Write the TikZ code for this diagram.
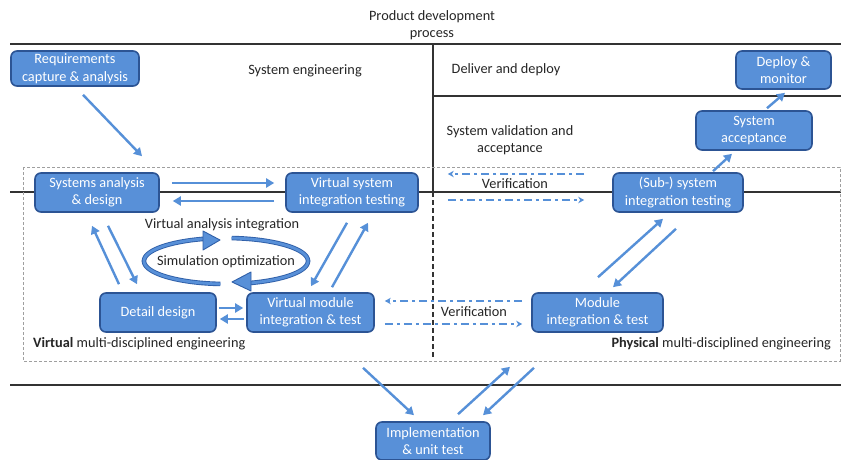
\documentclass[tikz,border=0pt]{standalone}
\usepackage{fontspec}
\setmainfont{Carlito}
\usetikzlibrary{arrows.meta,calc}
\definecolor{boxfill}{HTML}{5890D8}
\definecolor{boxline}{HTML}{2C5494}
\definecolor{arrowblue}{HTML}{5690D8}
\definecolor{ruleline}{HTML}{333333}
\definecolor{ringline}{HTML}{2F5FA8}
\definecolor{txt}{HTML}{262626}

\begin{document}
\begin{tikzpicture}[x=1pt,y=-1pt,
  stepbox/.style={draw=boxline, fill=boxfill, line width=1.6pt, rounded corners=6pt,
    text=white, align=center, inner sep=0pt, font=\fontsize{14.3}{17.5}\selectfont},
  flow/.style={draw=arrowblue, line width=2.4pt, -{Triangle[length=8pt,width=9pt]}},
  verif/.style={draw=arrowblue, line width=1.6pt, dash pattern=on 8pt off 4pt on 3pt off 4pt,
    -{Stealth[length=6pt,width=6.5pt]}},
  lbl/.style={font=\fontsize{14.3}{17.5}\selectfont, align=center, text=txt, inner sep=0pt},
  rule/.style={draw=ruleline, line width=1.3pt},
  ring/.style={draw=ringline, line width=0.9pt, double=boxfill, double distance=2.8pt},
  ringhead/.style={draw=ringline, line width=0.9pt, fill=boxfill, line join=round}
]
\fill[white] (0,0) rectangle (841,460);
\useasboundingbox (0,0) rectangle (841,460);

% swim-lane rules
\draw[rule] (10,44) -- (841,44);
\draw[rule] (433,96) -- (841,96);
\draw[rule] (10,192) -- (841,192);
\draw[rule] (10,385) -- (841,385);
\draw[rule] (433,44) -- (433,192);
\draw[draw=ruleline, line width=1.2pt, dash pattern=on 5pt off 3pt] (433,192) -- (433,358);

% multi-disciplined engineering frame
\draw[draw=gray!75, line width=0.9pt, dash pattern=on 3pt off 2pt] (23,167) rectangle (840,361);

% lane titles
\node[lbl] (title) at (432,25) {Product development\\process};
\node[lbl] (syseng) at (305,71) {System engineering};
\node[lbl] (deliver) at (506,70) {Deliver and deploy};
\node[lbl] (valid) at (510,140) {System validation and\\acceptance};
\node[lbl] (vai) at (222,225) {Virtual analysis integration};
\node[lbl, anchor=west] (virt) at (33,344) {\textbf{Virtual} multi-disciplined engineering};
\node[lbl, anchor=east] (phys) at (831,344) {\textbf{Physical} multi-disciplined engineering};
\node[lbl] (ver1) at (515,184) {Verification};
\node[lbl] (ver2) at (474,312) {Verification};

% process steps
\node[stepbox, minimum width=128pt, minimum height=35pt] (req) at (75,68.5) {Requirements\\capture \& analysis};
\node[stepbox, minimum width=124pt, minimum height=39pt] (sad) at (97,192.5) {Systems analysis\\\& design};
\node[stepbox, minimum width=132pt, minimum height=39pt] (vsit) at (352,192.5) {Virtual system\\integration testing};
\node[stepbox, minimum width=95pt, minimum height=38pt] (dep) at (783.5,70) {Deploy \&\\monitor};
\node[stepbox, minimum width=116pt, minimum height=39pt] (sacc) at (754,130.5) {System\\acceptance};
\node[stepbox, minimum width=130pt, minimum height=39pt] (ssit) at (678,192.5) {(Sub-) system\\integration testing};
\node[stepbox, minimum width=116pt, minimum height=39pt] (dd) at (158,312.5) {Detail design};
\node[stepbox, minimum width=127pt, minimum height=39pt] (vmit) at (310.5,312.5) {Virtual module\\integration \& test};
\node[stepbox, minimum width=131pt, minimum height=39pt] (mit) at (597.5,312.5) {Module\\integration \& test};
\node[stepbox, minimum width=114pt, minimum height=38pt] (impl) at (433,441) {Implementation\\\& unit test};

% simulation optimization loop
\draw[ring] plot[domain=94:254, samples=80, smooth] ({226+82*cos(\x)}, {261+23*sin(\x)});
\draw[ringhead] (220,240) -- (203,231) -- (203,250) -- cycle;
\draw[ring] plot[domain=-86:74, samples=80, smooth] ({226+82*cos(\x)}, {261+23*sin(\x)});
\draw[ringhead] (232,282) -- (251,272) -- (251,291) -- cycle;
\node[lbl] (simopt) at (226,262) {Simulation optimization};

% connectors
\draw[flow] ([shift={(8,8)}]req.south) -- ([shift={(45,-16)}]sad.north);
\draw[flow] ([shift={(12,-9.5)}]sad.east) -- ([shift={(-11,-9.5)}]vsit.west);
\draw[flow] ([shift={(-11,8.5)}]vsit.west) -- ([shift={(13,8.5)}]sad.east);
\draw[flow] ([shift={(-39,-8)}]dd.north) -- ([shift={(-5,13)}]sad.south);
\draw[flow] ([shift={(11,13)}]sad.south) -- ([shift={(-21,-8)}]dd.north);
\draw[flow] ([shift={(-5,10)}]vsit.south) -- ([shift={(0.5,-6)}]vmit.north);
\draw[flow] ([shift={(21.5,-5)}]vmit.north) -- ([shift={(16,10)}]vsit.south);
\draw[flow] ([shift={(2,-4.5)}]dd.east) -- ([shift={(-3,-4.5)}]vmit.west);
\draw[flow] ([shift={(-2,6.5)}]vmit.west) -- ([shift={(3,6.5)}]dd.east);
\draw[flow] ([shift={(0.5,-15)}]mit.north) -- ([shift={(-15,6)}]ssit.south);
\draw[flow] ([shift={(-2,16)}]ssit.south) -- ([shift={(15.5,-5)}]mit.north);
\draw[flow] ([shift={(35,-1)}]ssit.north) -- ([shift={(-22,3)}]sacc.south);
\draw[flow] ([shift={(13,-2)}]sacc.north) -- ([shift={(1.5,3)}]dep.south);
\draw[flow] ([shift={(52.5,35)}]vmit.south) -- ([shift={(-19,-6)}]impl.north);
\draw[flow] ([shift={(25,-7)}]impl.north) -- ([shift={(-87.5,34)}]mit.south);
\draw[flow] ([shift={(-63.5,35)}]mit.south) -- ([shift={(50,-6)}]impl.north);

% verification links
\draw[verif] ([shift={(-28,-18.5)}]ssit.west) -- ([shift={(29,-18.5)}]vsit.east);
\draw[verif] ([shift={(29,7.5)}]vsit.east) -- ([shift={(-28,7.5)}]ssit.west);
\draw[verif] ([shift={(-9,-11.5)}]mit.west) -- ([shift={(10,-11.5)}]vmit.east);
\draw[verif] ([shift={(10,11.5)}]vmit.east) -- ([shift={(-9,11.5)}]mit.west);
\end{tikzpicture}
\end{document}
